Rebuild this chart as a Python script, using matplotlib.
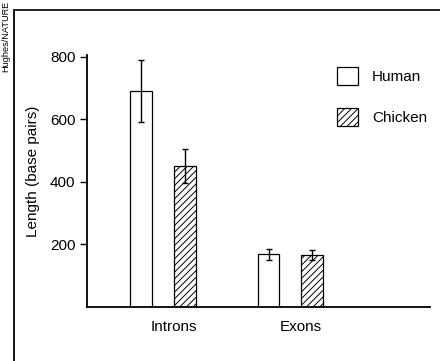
import matplotlib
matplotlib.use("Agg")
import matplotlib.pyplot as plt
from matplotlib.lines import Line2D
from matplotlib import font_manager
import numpy as np

categories = ["Introns", "Exons"]
series = ["Human", "Chicken"]
human_vals = [690, 168]
human_err = [100, 18]
chicken_vals = [450, 165]
chicken_err = [55, 15]
yticks = [200, 400, 600, 800]

plt.rcParams['font.family'] = ['Liberation Sans', 'DejaVu Sans']
plt.rcParams['hatch.linewidth'] = 0.7

names = {f.name for f in font_manager.fontManager.ttflist}
narrow = 'Liberation Sans Narrow' if 'Liberation Sans Narrow' in names else 'Liberation Sans'

fig = plt.figure(figsize=(4.4, 3.61), dpi=100)
ax = fig.add_axes([86.7/440, 1-306.7/361, (430-86.7)/440, (306.7-54.8)/361])

x = np.arange(len(categories))
w = 0.17
off = 0.171
ax.bar(x - off, human_vals, w, color='white', edgecolor='black', linewidth=0.9,
       label=series[0], yerr=human_err, capsize=2,
       error_kw=dict(ecolor='black', elinewidth=1, capthick=1))
ax.bar(x + off, chicken_vals, w, color='white', edgecolor='black', linewidth=0.9,
       hatch='/////', label=series[1], yerr=chicken_err, capsize=2,
       error_kw=dict(ecolor='black', elinewidth=1, capthick=1))

ax.set_xlim(-0.598, 2.095)
ax.set_ylim(0, 806)
ax.set_yticks(yticks)
ax.set_yticklabels([str(v) for v in yticks], fontsize=11)
ax.set_xticks(x + 0.082)
ax.set_xticklabels(categories, fontsize=11)
ax.tick_params(axis='x', length=0, pad=9.5)
ax.tick_params(axis='y', length=5, width=1, pad=3, direction='out')
for s in ['top', 'right']:
    ax.spines[s].set_visible(False)
ax.spines['left'].set_linewidth(1.3)
ax.spines['bottom'].set_linewidth(1.3)

ax.set_ylabel("Length (base pairs)", fontsize=11)
ax.yaxis.set_label_coords((40 - 86.7) / 343.3, 0.539)

ax.legend(loc='upper left', bbox_to_anchor=(337/440, 1-67/361),
          bbox_transform=fig.transFigure, frameon=False, fontsize=11,
          handlelength=1.4, handleheight=1.4, handletextpad=0.9,
          labelspacing=1.54, borderpad=0, borderaxespad=0)

fig.add_artist(Line2D([14/440, 14/440], [0, 1-10/361], transform=fig.transFigure,
                      color='black', lw=1.3))
fig.add_artist(Line2D([14/440, 1], [1-10/361, 1-10/361], transform=fig.transFigure,
                      color='#222222', lw=1.4))
fig.text(5.5/440, 1-1/361, "Hughes/NATURE", rotation=90, fontsize=6.6,
         family=narrow, ha='center', va='top')

fig.savefig("out.png", dpi=100)
